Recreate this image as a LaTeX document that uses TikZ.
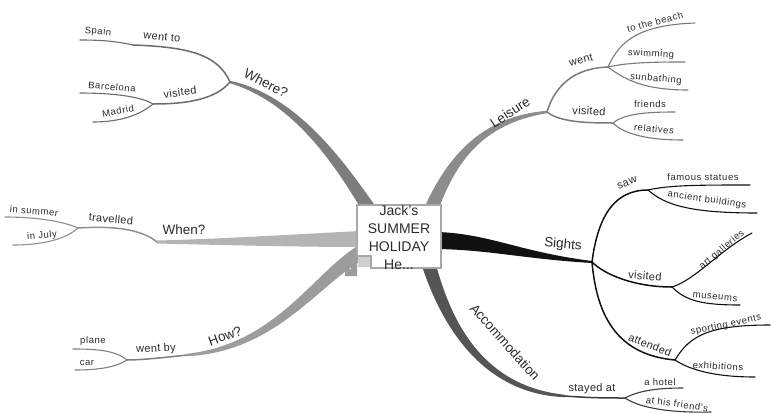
\documentclass[tikz,border=0pt]{standalone}
\usepackage{fontspec}
\setmainfont{Liberation Sans}
\newfontfamily\twigfont[LetterSpace=3]{Liberation Sans}
\newfontfamily\leaffont[LetterSpace=6]{Liberation Sans}
\usetikzlibrary{calc}

\definecolor{ink}{HTML}{2B2B2B}
\definecolor{boxline}{HTML}{A8A8A8}
\definecolor{notch}{HTML}{CFCFCF}
\definecolor{cwhere}{HTML}{7D7D7D}
\definecolor{cwheresub}{HTML}{6B6B6B}
\definecolor{cleis}{HTML}{8C8C8C}
\definecolor{cleissub}{HTML}{7A7A7A}
\definecolor{cwhen}{HTML}{B4B4B4}
\definecolor{cwhensub}{HTML}{8F8F8F}
\definecolor{chow}{HTML}{9C9C9C}
\definecolor{chowsub}{HTML}{7F7F7F}
\definecolor{csight}{HTML}{111111}
\definecolor{cacc}{HTML}{555555}
\definecolor{caccsub}{HTML}{3C3C3C}

\begin{document}
\begin{tikzpicture}[x=1pt,y=-1pt,
    mainlbl/.style={font=\fontsize{13.5}{15}\selectfont,text=ink,inner sep=0pt},
    twiglbl/.style={font=\twigfont\fontsize{11}{13}\selectfont,text=ink,inner sep=0pt},
    leaflbl/.style={font=\leaffont\fontsize{9.5}{11}\selectfont,text=ink,inner sep=0pt},
    twig/.style={line width=1.5pt,line cap=round},
    leaf/.style={line width=1.1pt,line cap=round}]
    \useasboundingbox (0,0) rectangle (771,413);

    % junctions and branch ends
    \coordinate (W) at (230,82);
    \coordinate (Wgo) at (133,45);
    \coordinate (Wvis) at (153,104);
    \coordinate (Spain) at (80,40);
    \coordinate (Barc) at (80,93);
    \coordinate (Madr) at (93,122);
    \coordinate (L) at (547,112);
    \coordinate (Lwent) at (608,67);
    \coordinate (Lvis) at (613,123);
    \coordinate (beach) at (695,23);
    \coordinate (swim) at (685,62);
    \coordinate (sunb) at (688,90);
    \coordinate (friends) at (675,112);
    \coordinate (relat) at (683,140);
    \coordinate (Wh) at (157,242);
    \coordinate (Wtrav) at (78,228);
    \coordinate (summer) at (5,217);
    \coordinate (july) at (13,245);
    \coordinate (H) at (187,355);
    \coordinate (Hby) at (127,360);
    \coordinate (plane) at (73,349);
    \coordinate (car) at (75,370);
    \coordinate (S) at (592,262);
    \coordinate (Ssaw) at (648,190);
    \coordinate (Svis) at (672,287);
    \coordinate (Satt) at (675,360);
    \coordinate (statues) at (750,185);
    \coordinate (build) at (757,213);
    \coordinate (gall) at (752,233);
    \coordinate (museum) at (740,305);
    \coordinate (sport) at (770,325);
    \coordinate (exhib) at (755,377);
    \coordinate (A) at (565,396);
    \coordinate (Astay) at (625,398);
    \coordinate (hotel) at (683,388);
    \coordinate (friend) at (711,412);

    % main branches (tapered)
    \fill[cwhere] (369,222) .. controls (341,175) and (299,104) .. ($(W)+(0,1.2)$)
        -- ($(W)+(0,-1.2)$) .. controls (301,96) and (349,169) .. (381,214) -- cycle;
    \fill[cleis] (436.5,214.6) .. controls (454.6,163.9) and (480.5,124) .. ($(L)+(0,1.2)$)
        -- ($(L)+(0,-1.2)$) .. controls (479.5,116) and (445.4,160.1) .. (423.5,209.4) -- cycle;
    \fill[cwhen] (360,231) .. controls (300,234) and (220,239) .. ($(Wh)+(0,-1.5)$)
        -- ($(Wh)+(0,1.5)$) .. controls (220,245) and (300,247) .. (360,247) -- cycle;
    \fill[chow] (364,259) .. controls (318,285) and (275.3,352) .. ($(H)+(0,1.2)$)
        -- ($(H)+(0,-1.2)$) .. controls (274.7,344) and (312,275) .. (356,247) -- cycle;
    \fill[chow] (345,276) -- (345,269) -- (351,269) -- (351,263) -- (357,263) -- (357,276) -- cycle;
    \fill[csight] (438,232) .. controls (490,234) and (520,252) .. ($(S)+(0,-1)$)
        -- ($(S)+(0,1)$) .. controls (525,259) and (490,250) .. (438,249) -- cycle;
    \fill[cacc] (434.7,260) .. controls (450,318.5) and (480.3,386) .. ($(A)+(0,-1.2)$)
        -- ($(A)+(0,1.2)$) .. controls (479.7,394) and (440,321.5) .. (421.3,264) -- cycle;

    % central box
    \draw[line width=1.5pt,draw=boxline,fill=white] (357,205) -- (441,205) -- (441,268)
        -- (371,268) -- (371,256) -- (357,256) -- cycle;
    \fill[notch] (358,257) rectangle (370,267);
    \node[align=center,font=\fontsize{14}{18}\selectfont,text=ink,inner sep=0pt] (hub)
        at (399,237) {Jack's\\SUMMER\\HOLIDAY\\He...};

    % Where?
    \draw[twig,cwheresub] (W) .. controls (218,55) and (190,47) .. (Wgo);
    \draw[leaf,cwheresub] (Wgo) .. controls (115,41) and (100,40) .. (Spain);
    \draw[twig,cwheresub] (W) .. controls (215,100) and (185,104) .. (Wvis);
    \draw[leaf,cwheresub] (Wvis) .. controls (140,96) and (110,93) .. (Barc);
    \draw[leaf,cwheresub] (Wvis) .. controls (140,115) and (120,122) .. (Madr);

    % Leisure
    \draw[twig,cleissub] (L) .. controls (555,85) and (575,68) .. (Lwent);
    \draw[leaf,cleissub] (Lwent) .. controls (620,40) and (640,25) .. (beach);
    \draw[leaf,cleissub] (Lwent) .. controls (630,62) and (660,62) .. (swim);
    \draw[leaf,cleissub] (Lwent) .. controls (625,80) and (645,90) .. (sunb);
    \draw[twig,cleissub] (L) .. controls (560,122) and (585,123) .. (Lvis);
    \draw[leaf,cleissub] (Lvis) .. controls (625,113) and (650,112) .. (friends);
    \draw[leaf,cleissub] (Lvis) .. controls (625,135) and (650,140) .. (relat);

    % When?
    \draw[twig,cwhensub] (Wh) .. controls (140,228) and (110,226) .. (Wtrav);
    \draw[leaf,cwhensub] (Wtrav) .. controls (60,220) and (30,217) .. (summer);
    \draw[leaf,cwhensub] (Wtrav) .. controls (65,240) and (40,245) .. (july);

    % How?
    \draw[twig,chowsub] (H) .. controls (160,358) and (140,360) .. (Hby);
    \draw[leaf,chowsub] (Hby) .. controls (115,350) and (95,349) .. (plane);
    \draw[leaf,chowsub] (Hby) .. controls (115,368) and (95,370) .. (car);

    % Sights
    \draw[twig,csight] (S) .. controls (598,215) and (615,190) .. (Ssaw);
    \draw[leaf,csight] (Ssaw) .. controls (670,185) and (700,185) .. (statues);
    \draw[leaf,csight] (Ssaw) .. controls (665,205) and (690,213) .. (build);
    \draw[twig,csight] (S) .. controls (605,275) and (635,287) .. (Svis);
    \draw[leaf,csight] (Svis) .. controls (695,280) and (720,250) .. (gall);
    \draw[leaf,csight] (Svis) .. controls (685,300) and (700,305) .. (museum);
    \draw[twig,csight] (S) .. controls (597,320) and (620,355) .. (Satt);
    \draw[leaf,csight] (Satt) .. controls (690,335) and (710,325) .. (sport);
    \draw[leaf,csight] (Satt) .. controls (690,370) and (715,377) .. (exhib);

    % Accommodation
    \draw[twig,caccsub] (A) .. controls (590,398) and (610,398) .. (Astay);
    \draw[leaf,caccsub] (Astay) .. controls (640,390) and (660,388) .. (hotel);
    \draw[leaf,caccsub] (Astay) .. controls (640,408) and (670,413) .. (friend);

    % main labels
    \node[mainlbl,rotate=-27] (where) at (266,83) {Where?};
    \node[mainlbl,rotate=33] (leisure) at (510,112) {Leisure};
    \node[mainlbl] (when) at (184,230) {When?};
    \node[mainlbl,rotate=20] (how) at (225,336) {How?};
    \node[mainlbl,rotate=-5] (sights) at (563,245) {Sights};
    \node[mainlbl,rotate=-48] (accom) at (505,342) {Accommodation};

    % second level labels
    \node[twiglbl,rotate=-6] (wentto) at (162,37) {went to};
    \node[twiglbl,rotate=8] (wvisited) at (180,92) {visited};
    \node[twiglbl,rotate=15] (went) at (581,60) {went};
    \node[twiglbl,rotate=-3] (lvisited) at (589,111) {visited};
    \node[twiglbl,rotate=-5] (travelled) at (111,219) {travelled};
    \node[twiglbl,rotate=3] (wentby) at (156,349) {went by};
    \node[twiglbl,rotate=20] (saw) at (627,183) {saw};
    \node[twiglbl,rotate=-5] (svisited) at (645,276) {visited};
    \node[twiglbl,rotate=-22] (attended) at (650,345) {attended};
    \node[twiglbl] (stayed) at (592,389) {stayed at};

    % leaf labels
    \node[leaflbl,rotate=-5] (spainl) at (98,32) {Spain};
    \node[leaflbl,rotate=-5] (barcl) at (112,87) {Barcelona};
    \node[leaflbl,rotate=10] (madrl) at (118,111) {Madrid};
    \node[leaflbl,rotate=15] (beachl) at (655,22) {to the beach};
    \node[leaflbl,rotate=-3] (swiml) at (651,54) {swimming};
    \node[leaflbl,rotate=-5] (sunbl) at (656,79) {sunbathing};
    \node[leaflbl] (friendsl) at (650,104) {friends};
    \node[leaflbl,rotate=-6] (relatl) at (654,129) {relatives};
    \node[leaflbl,rotate=-5] (summerl) at (34,211) {in summer};
    \node[leaflbl,rotate=5] (julyl) at (42,236) {in July};
    \node[leaflbl] (planel) at (93,341) {plane};
    \node[leaflbl] (carl) at (87,363) {car};
    \node[leaflbl] (statuesl) at (703,177) {famous statues};
    \node[leaflbl,rotate=-8] (buildl) at (707,200) {ancient buildings};
    \node[leaflbl,rotate=40] (galll) at (722,250) {art galleries};
    \node[leaflbl,rotate=-5] (museuml) at (715,297) {museums};
    \node[leaflbl,rotate=12] (sportl) at (726,325) {sporting events};
    \node[leaflbl,rotate=-3] (exhibl) at (718,366) {exhibitions};
    \node[leaflbl] (hotell) at (660,382) {a hotel};
    \node[leaflbl,rotate=-8] (friendl) at (677,404) {at his friend's};
\end{tikzpicture}
\end{document}
